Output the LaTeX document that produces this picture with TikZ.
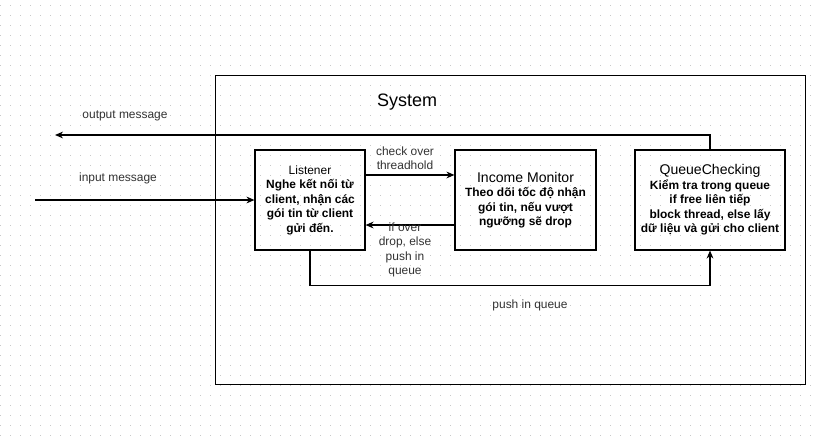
\documentclass[tikz,border=0pt]{standalone}
\usepackage{fontspec}
\setmainfont{Liberation Sans}
\usetikzlibrary{arrows.meta,positioning}
\definecolor{labelgray}{HTML}{333333}
\definecolor{dotgray}{HTML}{C8C8C8}
\tikzset{
  block/.style={draw,line width=0.8pt,align=center,inner sep=2pt,
                minimum height=2.5cm,
                font=\fontsize{8.5}{10.3}\selectfont\bfseries},
  flow/.style={-{Stealth[length=2mm,width=1.7mm]},line width=0.8pt},
  edgelabel/.style={align=center,text=labelgray,inner sep=0,
                    font=\fontsize{8.5}{10.3}\selectfont},
  griddot/.style={dotgray,line width=0.7pt,dash pattern=on 0.7pt off 6.4132pt},
}
\newcommand{\titlesmall}{\mdseries\fontsize{8.5}{10.3}\selectfont}
\newcommand{\titlebig}{\mdseries\fontsize{10}{11.5}\selectfont}

\begin{document}
\begin{tikzpicture}[x=0.025cm,y=-0.025cm]
  \useasboundingbox (0,0) rectangle (820,439);
  % background grid
  \fill[white] (0,0) rectangle (820,439);
  \foreach \gy in {5,15,...,435}
    \draw[griddot] (0,\gy) -- (820,\gy);

  % system frame
  \node[draw,line width=0.8pt,minimum width=14.75cm,minimum height=7.725cm,
        anchor=north west,inner sep=0](sys)at(215,75){};
  \node[font=\fontsize{12.8}{14}\selectfont](systitle)at(407,102){System};

  % blocks
  \node[block,minimum width=2.75cm](lis)at(310,200){%
    {\titlesmall Listener}\\
    Nghe kết nối từ\\client, nhận các\\gói tin từ client\\gửi đến.};
  \node[block,minimum width=3.525cm](mon)at(525.5,200){%
    {\titlebig Income Monitor}\\
    Theo dõi tốc độ nhận\\gói tin, nếu vượt\\ngưỡng sẽ drop};
  \node[block,minimum width=3.75cm](que)at(710,200){%
    {\titlebig QueueChecking}\\
    Kiểm tra trong queue\\if free liên tiếp\\block thread, else lấy\\dữ liệu và gửi cho client};

  % free ends
  \coordinate (outend) at (55,135);
  \coordinate (inbeg) at (35,200);

  % connectors
  \draw[flow] (que.north) |- (outend);
  \draw[flow] (inbeg) -- (lis.west);
  \draw[flow] ([yshift=0.625cm]lis.east) -- ([yshift=0.625cm]mon.west);
  \draw[flow] ([yshift=-0.625cm]mon.west) -- ([yshift=-0.625cm]lis.east);
  \draw[flow] (lis.south) -- ++(0,35) -| (que.south);

  % labels
  \node[edgelabel](outlbl)at(125,116){output message};
  \node[edgelabel](inlbl)at(118,178){input message};
  \node[edgelabel](chklbl)at(405,158){check over\\threadhold};
  \node[edgelabel](droplbl)at(405,250){if over\\drop, else\\push in\\queue};
  \node[edgelabel](pushlbl)at(530,305){push in queue};
\end{tikzpicture}
\end{document}
